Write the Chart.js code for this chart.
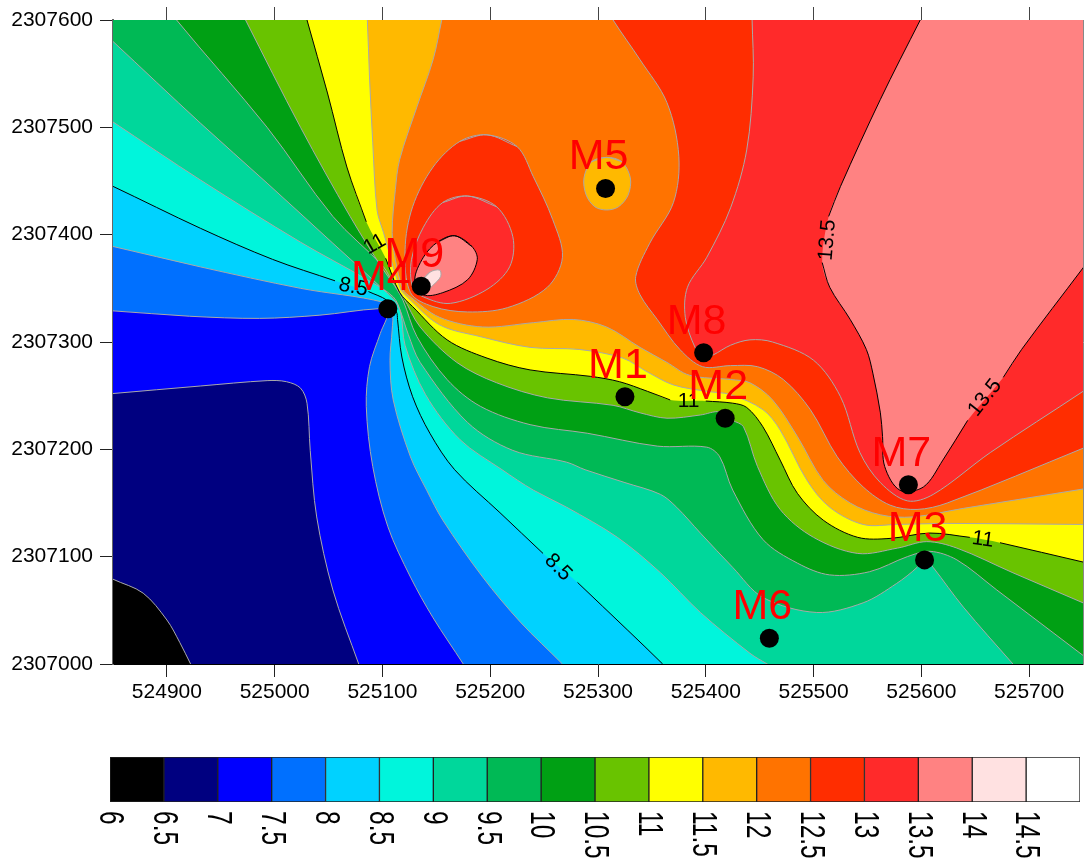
<!DOCTYPE html>
<html>
<head>
<meta charset="utf-8">
<script src="https://cdn.jsdelivr.net/npm/chart.js@4"></script>
<style>
  html, body { margin: 0; padding: 0; background: #fff; overflow: hidden; }
  canvas { position: absolute; left: 0; }
  #mapChart { top: 0; }
  #barChart { top: 740px; }
</style>
</head>
<body>
<canvas id="mapChart" width="1084" height="740"></canvas>
<canvas id="barChart" width="1084" height="120"></canvas>
<script>
const xTicks = [524900, 525000, 525100, 525200, 525300, 525400, 525500, 525600, 525700];
const yTicks = [2307000, 2307100, 2307200, 2307300, 2307400, 2307500, 2307600];

const wellNames = ["M1", "M2", "M3", "M4", "M5", "M6", "M7", "M8", "M9"];
const wellX = [525325, 525418, 525603, 525105, 525307, 525459, 525588, 525398, 525136];
const wellY = [2307249, 2307229, 2307097, 2307331, 2307443, 2307024, 2307167, 2307290, 2307352];

const labelText = ["8.5", "8.5", "11", "11", "11", "13.5", "13.5"];
const labelX = [525263, 525073, 525093, 525384, 525657, 525513, 525659];
const labelY = [2307090, 2307351, 2307391, 2307245, 2307116, 2307395, 2307248];
const labelAngle = [45, 12, -30, 0, 8, -85, -52];

const bandEdges = [6, 6.5, 7, 7.5, 8, 8.5, 9, 9.5, 10, 10.5, 11, 11.5, 12, 12.5, 13, 13.5, 14, 14.5, 15];
const bandColors = ["#000000", "#000080", "#0000FF", "#0070FF", "#00D2FF", "#00F5DC", "#00D79B", "#00B955", "#00A014",
  "#69C300", "#FFFF00", "#FFB900", "#FF7300", "#FF2D00", "#FF2A2A", "#FF8282", "#FFE1E1", "#FFFFFF"];

// contour lines, null = break for a label
const c65 = [[524843,2307083],[524850,2307079],[524878,2307066],[524900,2307041],[524912,2307020],[524922,2307000],[524927,2306990],[524935,2306975]];
const c70 = [[524838,2307251],[524850,2307252],[524931,2307259],[524993,2307264],[525011,2307263],[525024,2307257],[525030,2307243],[525033,2307199],[525039,2307137],[525054,2307069],[525078,2307000],[525082,2306990],[525090,2306966]];
const c75 = [[524838,2307329],[524850,2307329],[524921,2307324],[524986,2307322],[525042,2307325],[525096,2307331],[525105,2307328],[525098,2307308],[525088,2307277],[525085,2307240],[525091,2307184],[525105,2307128],[525126,2307081],[525147,2307043],[525175,2307000],[525181,2306990],[525195,2306966]];
const c80 = [[524838,2307391],[524850,2307389],[524931,2307370],[525024,2307350],[525101,2307337],[525109,2307328],[525109,2307311],[525107,2307283],[525110,2307246],[525126,2307193],[525141,2307162],[525156,2307134],[525193,2307081],[525228,2307039],[525267,2307000],[525276,2306990],[525293,2306966]];
const c85 = [[524838,2307450],[524850,2307445],[524931,2307406],[524998,2307377],[525056,2307357],null,[525087,2307347],[525104,2307339],[525113,2307328],[525114,2307321],[525118,2307286],[525128,2307249],[525144,2307215],[525167,2307181],[525209,2307141],[525249,2307103],null,[525281,2307076],[525327,2307032],[525360,2307000],[525369,2306990],[525386,2306971]];
const c90 = [[524838,2307513],[524850,2307505],[524931,2307451],[525024,2307393],[525086,2307358],[525110,2307342],[525117,2307327],[525121,2307297],[525140,2307251],[525172,2307209],[525211,2307181],[525240,2307162],[525271,2307146],[525318,2307118],[525358,2307085],[525395,2307048],[525441,2307010],[525457,2307000],[525469,2306993],[525487,2306980]];
const c95 = [[524838,2307591],[524850,2307580],[524931,2307504],[524993,2307448],[525054,2307392],[525104,2307346],[525114,2307335],[525124,2307307],[525135,2307281],[525179,2307225],[525221,2307199],[525271,2307188],[525288,2307181],[525325,2307169],[525358,2307158],[525373,2307146],[525395,2307122],[525425,2307090],[525453,2307062],[525503,2307048],[525546,2307057],[525577,2307075],[525596,2307090],[525603,2307099],[525611,2307090],[525639,2307053],[525685,2307000],[525694,2306990],[525706,2306976]];
const c100 = [[524903,2307611],[524909,2307600],[524993,2307500],[525054,2307417],[525101,2307370],[525109,2307356],[525119,2307339],[525132,2307305],[525160,2307265],[525191,2307240],[525237,2307223],[525290,2307215],[525355,2307203],[525401,2307202],[525413,2307193],[525425,2307162],[525453,2307116],[525485,2307094],[525515,2307083],[525552,2307086],[525587,2307100],[525608,2307105],[525633,2307097],[525670,2307069],[525750,2307008],[525758,2307002],[525775,2306990]];
const c105 = [[524968,2307611],[524973,2307600],[525024,2307500],[525070,2307417],[525101,2307367],[525119,2307342],[525135,2307314],[525169,2307281],[525206,2307262],[525253,2307248],[525314,2307241],[525339,2307234],[525364,2307229],[525395,2307232],[525413,2307235],[525425,2307227],[525435,2307221],[525448,2307184],[525469,2307144],[525500,2307118],[525541,2307103],[525578,2307108],[525605,2307114],[525633,2307108],[525685,2307085],[525750,2307057],[525761,2307052],[525784,2307042]];
const c110 = [[525027,2307611],[525030,2307600],[525049,2307532],[525067,2307463],[525085,2307412],null,[525103,2307378],[525116,2307346],[525128,2307333],[525160,2307302],[525197,2307285],[525237,2307274],[525293,2307268],[525320,2307263],[525346,2307254],[525367,2307246],null,[525400,2307245],[525425,2307243],[525438,2307239],[525453,2307221],[525469,2307190],[525485,2307159],[525509,2307134],[525541,2307118],[525571,2307117],[525608,2307122],[525645,2307118],null,[525673,2307113],[525750,2307095],[525761,2307092],[525784,2307087]];
const c115 = [[525085,2307611],[525086,2307600],[525088,2307547],[525091,2307486],[525095,2307423],[525101,2307402],[525116,2307351],[525123,2307342],[525153,2307316],[525191,2307305],[525237,2307295],[525283,2307293],[525323,2307285],[525346,2307272],[525370,2307260],[525401,2307254],[525423,2307251],[525453,2307237],[525469,2307218],[525494,2307171],[525515,2307146],[525546,2307130],[525577,2307130],[525624,2307131],[525750,2307130],[525761,2307130],[525784,2307130]];
const c120 = [[525157,2307611],[525155,2307600],[525147,2307563],[525132,2307519],[525116,2307470],[525112,2307442],[525109,2307402],[525112,2307377],[525119,2307349],[525126,2307342],[525153,2307323],[525193,2307314],[525240,2307318],[525277,2307321],[525308,2307314],[525339,2307295],[525364,2307281],[525385,2307269],[525423,2307265],[525441,2307262],[525462,2307246],[525485,2307212],[525509,2307171],[525534,2307150],[525562,2307139],[525592,2307137],[525639,2307145],[525750,2307163],[525761,2307165],[525784,2307169]];
const c125 = [[525309,2307611],[525314,2307600],[525339,2307563],[525364,2307523],[525375,2307473],[525370,2307430],[525348,2307392],[525335,2307361],[525339,2307344],[525355,2307321],[525376,2307293],[525397,2307277],[525423,2307278],[525448,2307277],[525472,2307265],[525497,2307237],[525522,2307193],[525546,2307165],[525571,2307148],[525596,2307144],[525624,2307150],[525750,2307201],[525761,2307206],[525784,2307215]];
const c130 = [[525443,2307611],[525443,2307600],[525444,2307547],[525438,2307479],[525423,2307425],[525401,2307379],[525383,2307351],[525381,2307323],[525390,2307295],[525398,2307285],[525407,2307288],[525423,2307297],[525441,2307302],[525462,2307300],[525500,2307283],[525525,2307249],[525543,2307197],[525562,2307169],[525587,2307152],[525611,2307158],[525664,2307197],[525750,2307254],[525761,2307262],[525784,2307277]];
const c135 = [[525605,2307611],[525599,2307600],[525562,2307526],[525525,2307445],[525514,2307417],null,[525508,2307374],[525515,2307351],[525534,2307321],[525549,2307293],[525555,2307271],[525562,2307234],[525564,2307212],[525566,2307184],[525580,2307162],[525602,2307165],[525620,2307190],[525643,2307227],null,[525676,2307267],[525693,2307293],[525750,2307369],[525761,2307384],[525784,2307416]];

// closed pieces
const holeM5 = [[525308,2307472],[525322,2307468],[525330,2307453],[525328,2307437],[525319,2307426],[525308,2307423],[525297,2307426],[525289,2307437],[525287,2307453],[525294,2307468],[525308,2307472]];
const loop125 = [[525197,2307493],[525225,2307482],[525240,2307454],[525258,2307414],[525267,2307379],[525253,2307351],[525216,2307332],[525179,2307328],[525147,2307333],[525126,2307346],[525121,2307386],[525128,2307426],[525147,2307463],[525172,2307487],[525197,2307493]];
const loop130 = [[525179,2307436],[525206,2307426],[525221,2307398],[525218,2307370],[525197,2307349],[525163,2307336],[525138,2307342],[525128,2307351],[525127,2307377],[525138,2307407],[525156,2307430],[525179,2307436]];
const loop135 = [[525167,2307399],[525183,2307389],[525188,2307377],[525179,2307358],[525156,2307346],[525138,2307344],[525130,2307358],[525138,2307379],[525151,2307393],[525167,2307399]];
const loop140 = [[525136,2307355],[525144,2307365],[525153,2307367],[525154,2307361],[525147,2307353],[525140,2307348],[525136,2307355]];

const outerAll = [[525900,2306900],[525900,2307700],[524750,2307700]];
const outerTop = [[525900,2307700]];
const plotRect = [[524750,2306900],[525900,2306900],[525900,2307700],[524750,2307700]];

const FONT = '"Liberation Sans", Arial, sans-serif';
const GRAY = "#a9a9a9";
const TENSION = 0.33;

function pts(list) {
  return list.map(p => p ? { x: p[0], y: p[1] } : { x: null, y: null });
}

// overlap the seam of a closed piece so the curve stays round there
function wrap(list) {
  return [list[list.length - 2], ...list, list[1]];
}

function fillSet(list, color, outer) {
  return {
    data: pts(list.filter(Boolean).concat(outer || [])),
    backgroundColor: color,
    borderWidth: 0,
    fill: "shape",
    tension: TENSION,
    capBezierPoints: false,
    pointRadius: 0
  };
}

function lineSet(list, color) {
  return {
    data: pts(list),
    borderColor: color,
    borderWidth: 1,
    fill: false,
    tension: TENSION,
    capBezierPoints: false,
    spanGaps: false,
    pointRadius: 0
  };
}

const fills = [
  fillSet(plotRect, bandColors[0]),
  fillSet(c65, bandColors[1], outerAll),
  fillSet(c70, bandColors[2], outerAll),
  fillSet(c75, bandColors[3], outerAll),
  fillSet(c80, bandColors[4], outerAll),
  fillSet(c85, bandColors[5], outerAll),
  fillSet(c90, bandColors[6], outerAll),
  fillSet(c95, bandColors[7], outerAll),
  fillSet(c100, bandColors[8], outerTop),
  fillSet(c105, bandColors[9], outerTop),
  fillSet(c110, bandColors[10], outerTop),
  fillSet(c115, bandColors[11], outerTop),
  fillSet(c120, bandColors[12], outerTop),
  fillSet(wrap(holeM5), bandColors[11]),
  fillSet(c125, bandColors[13], outerTop),
  fillSet(wrap(loop125), bandColors[13]),
  fillSet(c130, bandColors[14], outerTop),
  fillSet(wrap(loop130), bandColors[14]),
  fillSet(c135, bandColors[15], outerTop),
  fillSet(wrap(loop135), bandColors[15]),
  fillSet(wrap(loop140), bandColors[16])
];

const lines = [
  lineSet(c65, GRAY), lineSet(c70, GRAY), lineSet(c75, GRAY), lineSet(c80, GRAY),
  lineSet(c85, "#000"), lineSet(c90, GRAY), lineSet(c95, GRAY), lineSet(c100, GRAY),
  lineSet(c105, GRAY), lineSet(c110, "#000"), lineSet(c115, GRAY), lineSet(c120, GRAY),
  lineSet(wrap(holeM5), GRAY), lineSet(c125, GRAY), lineSet(wrap(loop125), GRAY), lineSet(c130, GRAY),
  lineSet(wrap(loop130), GRAY), lineSet(c135, "#000"), lineSet(wrap(loop135), "#000"), lineSet(wrap(loop140), GRAY)
];

const wells = {
  data: wellX.map((x, i) => ({ x, y: wellY[i] })),
  showLine: false,
  pointRadius: 9.5,
  pointBackgroundColor: "#000",
  pointBorderWidth: 0
};

// painted last to first
const allSets = fills.concat(lines, [wells]);
allSets.forEach((d, i) => { d.order = allSets.length - i; });

const mapText = {
  id: "mapText",
  afterDatasetsDraw(chart) {
    const { ctx, scales } = chart;
    ctx.save();
    ctx.fillStyle = "#000";
    ctx.textAlign = "center";
    ctx.textBaseline = "middle";
    ctx.font = "21px " + FONT;
    labelText.forEach((t, i) => {
      ctx.save();
      ctx.translate(scales.x.getPixelForValue(labelX[i]), scales.y.getPixelForValue(labelY[i]));
      ctx.rotate(labelAngle[i] * Math.PI / 180);
      ctx.fillText(t, 0, 0);
      ctx.restore();
    });
    ctx.fillStyle = "#FF0000";
    ctx.font = "43px " + FONT;
    wellNames.forEach((t, i) => {
      ctx.fillText(t, scales.x.getPixelForValue(wellX[i]) - 7, scales.y.getPixelForValue(wellY[i]) - 31);
    });
    ctx.restore();
  }
};

function tickGrid(color) {
  return { drawOnChartArea: false, drawTicks: true, tickLength: 13, tickColor: color };
}

function fitX(a, h) {
  a.height = h;
  a.paddingLeft = 0;
  a.paddingRight = 0;
}

new Chart(document.getElementById("mapChart"), {
  type: "line",
  data: { datasets: allSets },
  options: {
    responsive: false,
    animation: false,
    events: [],
    layout: { padding: 0, autoPadding: false },
    plugins: { legend: { display: false }, tooltip: { enabled: false } },
    scales: {
      x: {
        type: "linear", position: "bottom", min: 524850, max: 525750,
        afterBuildTicks: a => { a.ticks = xTicks.map(v => ({ value: v })); },
        afterFit: a => fitX(a, 76),
        grid: tickGrid("#222"),
        border: { color: "#000" },
        ticks: {
          color: "#000", padding: 3, maxRotation: 0, autoSkip: false,
          font: { family: FONT, size: 21 },
          callback: v => String(v)
        }
      },
      x2: {
        type: "linear", position: "top", min: 524850, max: 525750,
        afterBuildTicks: a => { a.ticks = xTicks.map(v => ({ value: v })); },
        afterFit: a => fitX(a, 20),
        grid: tickGrid("#444"),
        border: { color: "#000" },
        ticks: { display: false }
      },
      y: {
        type: "linear", position: "left", min: 2307000, max: 2307600,
        afterBuildTicks: a => { a.ticks = yTicks.map(v => ({ value: v })); },
        afterFit: a => { a.width = 113; a.paddingTop = 0; a.paddingBottom = 0; },
        grid: tickGrid("#222"),
        border: { color: "#666", width: 2 },
        ticks: {
          color: "#000", padding: 7, autoSkip: false,
          font: { family: FONT, size: 21 },
          callback: v => String(v)
        }
      },
      y2: {
        type: "linear", position: "right", min: 2307000, max: 2307600,
        afterFit: a => { a.width = 1; a.paddingTop = 0; a.paddingBottom = 0; },
        grid: { drawOnChartArea: false, drawTicks: false },
        border: { color: "#888" },
        ticks: { display: false }
      }
    }
  },
  plugins: [mapText]
});

const barText = {
  id: "barText",
  afterDatasetsDraw(chart) {
    const { ctx, scales, chartArea } = chart;
    ctx.save();
    ctx.fillStyle = "#000";
    ctx.font = "35px " + FONT;
    ctx.textAlign = "left";
    ctx.textBaseline = "middle";
    bandEdges.slice(0, -1).forEach(v => {
      ctx.save();
      ctx.translate(scales.x.getPixelForValue(v), chartArea.bottom + 9);
      ctx.rotate(Math.PI / 2);
      ctx.scale(0.7, 1);
      ctx.fillText(String(v), 0, 0);
      ctx.restore();
    });
    ctx.restore();
  }
};

new Chart(document.getElementById("barChart"), {
  type: "bar",
  data: {
    labels: [""],
    datasets: bandColors.map((color, i) => ({
      data: [[bandEdges[i], bandEdges[i + 1]]],
      backgroundColor: color,
      borderColor: "#222",
      borderWidth: 1,
      borderSkipped: false,
      grouped: false,
      barPercentage: 1,
      categoryPercentage: 1
    }))
  },
  options: {
    indexAxis: "y",
    responsive: false,
    animation: false,
    events: [],
    layout: { padding: { left: 110, right: 4, top: 17, bottom: 58 } },
    plugins: { legend: { display: false }, tooltip: { enabled: false } },
    scales: {
      x: { type: "linear", min: 6, max: 15, display: false },
      y: { display: false }
    }
  },
  plugins: [barText]
});
</script>
</body>
</html>
